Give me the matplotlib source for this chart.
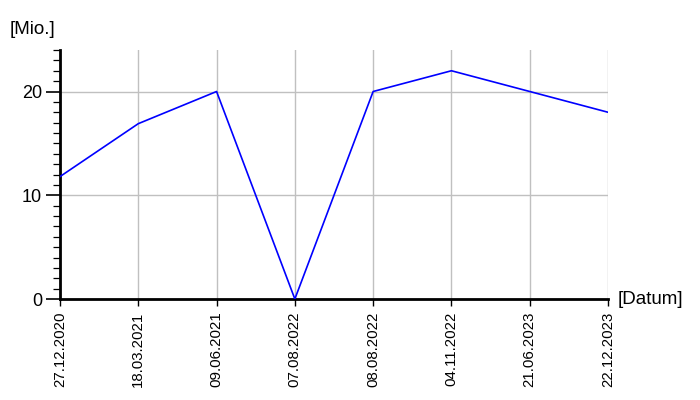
import matplotlib
matplotlib.use("Agg")
import matplotlib.pyplot as plt
from matplotlib.ticker import MultipleLocator

plt.rcParams['font.family'] = ['Liberation Sans', 'DejaVu Sans']

dates = ["27.12.2020", "18.03.2021", "09.06.2021", "07.08.2022",
         "08.08.2022", "04.11.2022", "21.06.2023", "22.12.2023"]
values = [11.8, 16.9, 20.0, 0.0, 20.0, 22.0, 20.0, 18.0]

fig = plt.figure(figsize=(7, 4), dpi=100)
ax = fig.add_axes([60/700, 1-299/400, 548/700, 249/400])

x = list(range(len(dates)))
ax.plot(x, values, color='#0000ff', lw=1.2, zorder=3)

ax.set_xlim(0, len(dates)-1)
ax.set_ylim(0, 24)
ax.set_xticks(x)
ax.set_xticklabels(dates, rotation=90, fontsize=10.8)
ax.yaxis.set_major_locator(MultipleLocator(10))
ax.yaxis.set_minor_locator(MultipleLocator(1))
ax.tick_params(axis='y', which='major', length=10, width=1.2, labelsize=13, pad=3)
ax.tick_params(axis='y', which='minor', length=5, width=0.9)
ax.tick_params(axis='x', which='major', length=5, width=1, pad=4)

ax.grid(True, color='#c0c0c0', lw=1.0)
ax.set_axisbelow(True)
for s in ['top', 'right']:
    ax.spines[s].set_visible(False)
ax.spines['left'].set_linewidth(2)
ax.spines['bottom'].set_linewidth(2)

fig.text(10/700, 1-30/400, "[Mio.]", fontsize=13.5, ha='left', va='center')
fig.text(618/700, 1-299/400, "[Datum]", fontsize=13.5, ha='left', va='center')

fig.savefig("out.png", dpi=100)
